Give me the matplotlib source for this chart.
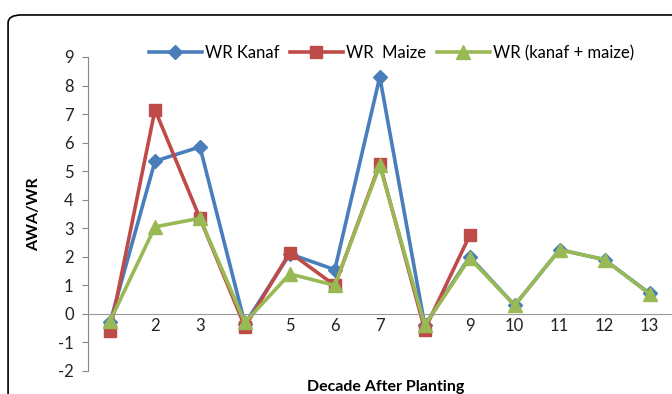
import numpy as np
import matplotlib.pyplot as plt
from matplotlib.patches import FancyBboxPatch

# Water ratio per decade after planting
decades = np.arange(1, 14)
wr_kanaf = [-0.3, 5.35, 5.85, -0.35, 2.1, 1.55, 8.3, -0.4, 2.0, 0.3, 2.25, 1.9, 0.72]
wr_maize = [-0.6, 7.15, 3.35, -0.45, 2.15, 1.0, 5.25, -0.55, 2.75,
            np.nan, np.nan, np.nan, np.nan]
wr_mix = [-0.25, 3.05, 3.35, -0.3, 1.4, 1.0, 5.2, -0.4, 1.95, 0.3, 2.25, 1.9, 0.7]

plt.rcParams['font.family'] = ['Lato', 'DejaVu Sans']
plt.rcParams['axes.unicode_minus'] = False

fig = plt.figure(figsize=(6.72, 3.94), dpi=100)
ax = fig.add_axes([0.1303, 0.0584, 0.8697, 0.797])

# outer rounded frame
frame = FancyBboxPatch((0.012, -0.1), 1.2, 1.062, transform=fig.transFigure,
                       boxstyle="round,pad=0,rounding_size=0.02",
                       facecolor='none', edgecolor='black', linewidth=1.2,
                       clip_on=False)
fig.patches.append(frame)

ax.plot(decades, wr_kanaf, color='#4A7EBB', lw=2.6, marker='D', ms=7.5,
        label='WR Kanaf')
ax.plot(decades, wr_maize, color='#BE4B48', lw=2.6, marker='s', ms=8.5,
        label='WR  Maize')
ax.plot(decades, wr_mix, color='#98B954', lw=2.6, marker='^', ms=9.5,
        label='WR (kanaf + maize)')

ax.set_xlim(0.5, 13.5)
ax.set_ylim(-2, 9)
ax.set_yticks(range(-2, 10))
ax.set_xticks(decades)

for s in ['top', 'right']:
    ax.spines[s].set_visible(False)
ax.spines['left'].set_color('#888888')
ax.spines['bottom'].set_position(('data', 0))
ax.spines['bottom'].set_color('#999999')
ax.tick_params(axis='y', colors='#888888', labelcolor='#222222', length=4,
               direction='out', labelsize=12, pad=6)
ax.tick_params(axis='x', length=0, labelsize=12, labelcolor='#222222', pad=3)

ax.set_ylabel('AWA/WR', fontsize=11.5, fontweight='bold', labelpad=12)
ax.set_xlabel('Decade After Planting', fontsize=11.5, fontweight='bold')
ax.xaxis.set_label_coords(0.51, -0.03)

ax.legend(loc='center', bbox_to_anchor=(0.52, 1.013), ncol=3, frameon=False,
          fontsize=12, handlelength=3.2, columnspacing=0.6, handletextpad=0.2,
          borderaxespad=0)

fig.savefig('out.png', dpi=100)
